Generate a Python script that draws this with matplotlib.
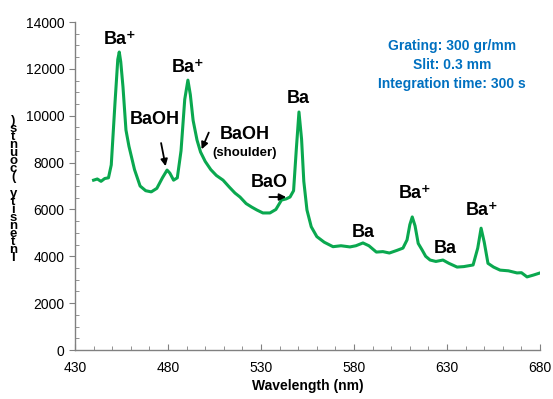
import matplotlib.pyplot as plt
from matplotlib.ticker import MultipleLocator

plt.rcParams['font.family'] = ['Liberation Sans', 'DejaVu Sans']

# spectrum (wavelength nm, counts)
wavelength = [440, 442, 444, 446, 448, 449.5, 451.5, 453, 453.8, 454.6, 455.8, 457.4,
              459, 462, 465, 468, 471, 474, 477, 479.5, 481, 483, 485, 487, 489,
              490.7, 492, 493.5, 495.6, 497.5, 500, 503, 506, 509.6, 513, 516,
              518.7, 522, 525, 527.8, 531, 534.8, 538, 541, 543.5, 545.6, 547.5,
              549, 550.4, 551.8, 553, 554.7, 557, 560, 564, 568.7, 573, 577.8,
              581, 584.8, 588, 592, 595.5, 599, 603, 606.3, 608.5, 610, 611.3,
              612.8, 614.5, 616.6, 618.5, 620.9, 624, 627.8, 631, 635.4, 639,
              644, 646.5, 648.3, 650, 652, 655, 658.5, 663, 667.6, 670, 673,
              676.5, 680]
counts = [7250, 7300, 7200, 7320, 7350, 7900, 10540, 12400, 12720, 12300, 11230, 9390,
          8700, 7700, 7000, 6800, 6750, 6900, 7350, 7680, 7550, 7250, 7350, 8500, 10700,
          11520, 10900, 9800, 8960, 8450, 8050, 7700, 7450, 7250, 6950, 6700,
          6530, 6250, 6100, 5975, 5850, 5850, 6000, 6400, 6450, 6530, 6800,
          8600, 10160, 9000, 7200, 5975, 5260, 4840, 4600, 4410, 4450, 4400,
          4450, 4570, 4450, 4180, 4200, 4140, 4250, 4350, 4700, 5350, 5680,
          5300, 4550, 4270, 4000, 3840, 3780, 3840, 3700, 3540, 3560,
          3630, 4350, 5200, 4600, 3700, 3540, 3410, 3380, 3290, 3300, 3120,
          3200, 3290]

x_ticks = [430, 480, 530, 580, 630, 680]

spec_color = '#0aa84f'
note_color = '#0070c0'

fig = plt.figure(figsize=(5.53, 3.99), dpi=100)
ax = fig.add_axes([0.1356, 0.1228, 0.841, 0.822])

ax.plot(wavelength, counts, color=spec_color, lw=2.2)

ax.set_xlim(430, 680)
ax.set_ylim(0, 14000)
ax.set_xticks(x_ticks)
ax.xaxis.set_minor_locator(MultipleLocator(10))
ax.yaxis.set_major_locator(MultipleLocator(2000))
ax.yaxis.set_minor_locator(MultipleLocator(500))

for side in ['top', 'right']:
    ax.spines[side].set_visible(False)
for side in ['left', 'bottom']:
    ax.spines[side].set_color('#808080')
    ax.spines[side].set_linewidth(1)

ax.tick_params(axis='x', which='both', direction='in', color='#808080',
               labelsize=10, pad=8)
ax.tick_params(axis='x', which='major', length=4)
ax.tick_params(axis='x', which='minor', length=3)
ax.tick_params(axis='y', which='major', direction='out', length=4, color='#808080',
               labelsize=10)
ax.tick_params(axis='y', which='minor', direction='in', length=3, color='#808080')

ax.set_xlabel('Wavelength (nm)', fontsize=10, fontweight='bold', labelpad=3)

# the stacked, back-to-front axis title of the original
ylab = 'Intensity (counts)'
fig.text(0.024, 0.525, '\n'.join(reversed(ylab)), fontsize=9.5, fontweight='bold',
         ha='center', va='center', linespacing=0.56)

# peak labels
bold = dict(fontsize=13, fontweight='bold', ha='center', va='center')
ax.text(454, 13250, 'Ba\u207a', **bold)
ax.text(491, 12050, 'Ba\u207a', **bold)
ax.text(473, 9850, 'BaOH', **bold)
ax.text(521, 9200, 'BaOH', **bold)
ax.text(521, 8400, '(shoulder)', fontsize=9.5, fontweight='bold', ha='center', va='center')
ax.text(534.3, 7150, 'BaO', **bold)
ax.text(550, 10750, 'Ba', **bold)
ax.text(585, 5000, 'Ba', **bold)
ax.text(613, 6680, 'Ba\u207a', **bold)
ax.text(629, 4340, 'Ba', **bold)
ax.text(649, 5960, 'Ba\u207a', **bold)

arrow = dict(arrowstyle='-|>', color='black', lw=1.3, mutation_scale=10)
ax.annotate('', xy=(479, 7730), xytext=(476, 8950), arrowprops=arrow)
ax.annotate('', xy=(497.5, 8460), xytext=(502.5, 9390), arrowprops=arrow)
ax.annotate('', xy=(545, 6530), xytext=(533, 6530), arrowprops=arrow)

ax.text(0.811, 0.869, 'Grating: 300 gr/mm\nSlit: 0.3 mm\nIntegration time: 300 s',
        transform=ax.transAxes, color=note_color, fontsize=10, fontweight='bold',
        ha='center', va='center', linespacing=1.45)

fig.savefig('out.png', dpi=100)
